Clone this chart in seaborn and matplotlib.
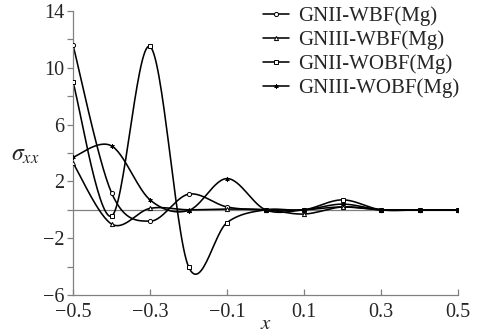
import numpy as np
import pandas as pd
import matplotlib
matplotlib.use("Agg")
import matplotlib.pyplot as plt
import seaborn as sns
from matplotlib.lines import Line2D

# data
x = [-0.5, -0.4, -0.3, -0.2, -0.1, 0.0, 0.1, 0.2, 0.3, 0.4, 0.5]
gnii_wbf = [11.6, 1.2, -0.8, 1.1, 0.2, 0.0, 0.0, 0.2, 0.0, 0.0, 0.0]
gniii_wbf = [3.3, -1.0, 0.1, 0.0, 0.05, 0.0, -0.3, 0.2, 0.0, 0.0, 0.0]
gnii_wobf = [9.0, -0.45, 11.5, -4.0, -0.9, 0.0, 0.0, 0.7, 0.0, 0.0, 0.0]
gniii_wobf = [3.7, 4.5, 0.7, -0.05, 2.2, 0.0, 0.0, 0.4, 0.0, 0.0, 0.0]

series_names = ["GNII-WBF(Mg)", "GNIII-WBF(Mg)", "GNII-WOBF(Mg)", "GNIII-WOBF(Mg)"]
series_vals = [gnii_wbf, gniii_wbf, gnii_wobf, gniii_wobf]
series_markers = ["o", "^", "s", (6, 2, 0)]

x_ticks = [-0.5, -0.3, -0.1, 0.1, 0.3, 0.5]
y_ticks = [-6, -4, -2, 0, 2, 4, 6, 8, 10, 12, 14]
y_labels = ["\u22126", "", "\u22122", "", "2", "", "6", "", "10", "", "14"]


def smooth(xs, ys, n=30):
    # Excel-style smoothed line: cubic Bezier through the points
    xs = np.asarray(xs, float)
    ys = np.asarray(ys, float)
    p = np.column_stack([xs, ys])
    out = []
    for i in range(len(p) - 1):
        p0 = p[max(i - 1, 0)]
        p1, p2 = p[i], p[i + 1]
        p3 = p[min(i + 2, len(p) - 1)]
        c1 = p1 + (p2 - p0) / 6
        c2 = p2 - (p3 - p1) / 6
        t = np.linspace(0, 1, n, endpoint=(i == len(p) - 2))[:, None]
        seg = ((1 - t) ** 3) * p1 + 3 * ((1 - t) ** 2) * t * c1 + 3 * (1 - t) * t ** 2 * c2 + t ** 3 * p2
        out.append(seg)
    out = np.vstack(out)
    return out[:, 0], out[:, 1]


sns.set_style("ticks")
plt.rcParams["font.family"] = ["Liberation Serif", "DejaVu Serif"]
plt.rcParams["mathtext.fontset"] = "stix"

fig = plt.figure(figsize=(4.81, 3.35), dpi=100)
ax = fig.add_axes([0.1518, 0.1194, 0.8004, 0.8478])

frames = []
for name, vals in zip(series_names, series_vals):
    sx, sy = smooth(x, vals)
    frames.append(pd.DataFrame({"x": sx, "y": sy, "series": name}))
curves = pd.concat(frames, ignore_index=True)

ax.axhline(0, color="#808080", lw=0.9, zorder=1)
sns.lineplot(data=curves, x="x", y="y", hue="series", sort=False,
             palette=["black"] * 4, legend=False, lw=1.15, ax=ax, zorder=2)

for vals, mk in zip(series_vals, series_markers):
    ax.plot(x, vals, ls="none", marker=mk, ms=3.0, mfc="white",
            mec="black", mew=0.7, zorder=3)

ax.set_xlim(-0.5, 0.5)
ax.set_ylim(-6, 14)
ax.set_xticks(x_ticks)
ax.set_xticklabels([f"{v:.1f}".replace("-", "\u2212") for v in x_ticks])
ax.set_yticks(y_ticks)
ax.set_yticklabels(y_labels)
ax.tick_params(axis="both", labelsize=14.5, color="#808080", width=0.9)
ax.tick_params(axis="x", direction="in", length=4, pad=6)
ax.tick_params(axis="y", direction="out", length=4, pad=2)

sns.despine(ax=ax)
for s in ["left", "bottom"]:
    ax.spines[s].set_color("#808080")
    ax.spines[s].set_linewidth(0.9)

ax.set_xlabel("$x$", fontsize=15, labelpad=-5)
ax.set_ylabel("$\\sigma_{xx}$", fontsize=17, rotation=0)
ax.yaxis.set_label_coords(-0.125, 0.455)

handles = [Line2D([], [], color="black", lw=1.15, marker=mk, ms=3.0, mfc="white",
                  mec="black", mew=0.7) for mk in series_markers]
ax.legend(handles, series_names, loc="upper left", bbox_to_anchor=(0.4935, 1.015),
          frameon=False, fontsize=15, handlelength=1.25, handletextpad=0.45,
          labelspacing=0.2, borderaxespad=0.0, borderpad=0.0)

fig.savefig("out.png", dpi=100)
